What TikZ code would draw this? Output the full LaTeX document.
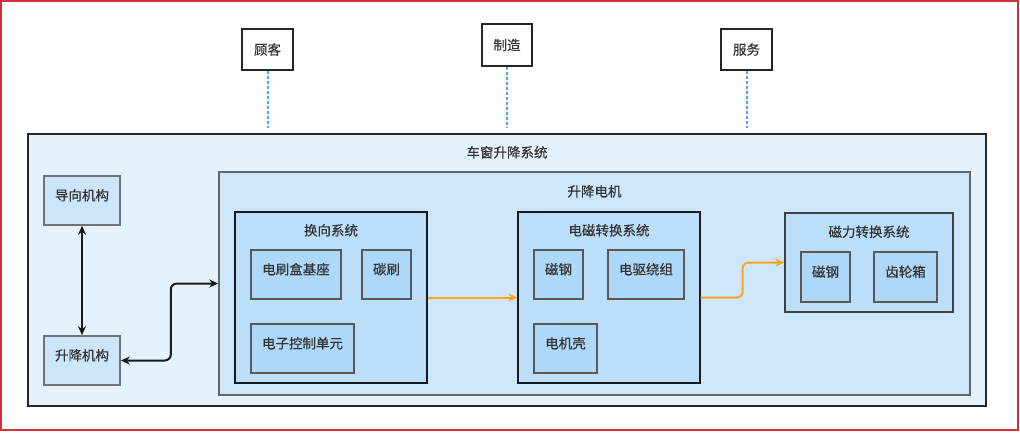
\documentclass[tikz,border=0pt]{standalone}
\usepackage{fontspec}
\setmainfont{Noto Sans CJK SC}[FakeBold=0.4]
\usetikzlibrary{arrows.meta,positioning}
\definecolor{txt}{HTML}{333333}
\definecolor{sysfill}{HTML}{E3F2FD}
\definecolor{motfill}{HTML}{CCE6FB}
\definecolor{subfill}{HTML}{BBDEFB}
\definecolor{compfill}{HTML}{ADD8FA}
\definecolor{leftfill}{HTML}{CCE5FB}
\definecolor{dotblue}{HTML}{4DA3FF}
\definecolor{orng}{HTML}{FFA31A}
\definecolor{frame}{HTML}{D0313A}
\tikzset{
  every node/.style={font=\fontsize{13.5pt}{15pt}\selectfont, text=txt},
  topbox/.style={draw=black!85, line width=1.3pt, fill=white, inner sep=0pt, minimum width=51pt, minimum height=41pt},
  container/.style={draw=#1, line width=1.4pt, inner sep=0pt},
  comp/.style={draw=black!65, line width=1.6pt, fill=compfill, inner sep=0pt, minimum height=49pt, text height=11.4pt, text depth=11.6pt},
  leftbox/.style={draw=black!55, line width=1.6pt, fill=leftfill, inner sep=0pt, minimum width=76pt, minimum height=49pt, text height=11.4pt, text depth=11.6pt},
  bidir/.style={{Stealth[length=9pt,width=8pt]}-{Stealth[length=9pt,width=8pt]}, line width=2pt, black!90, rounded corners=6pt},
  flow/.style={-{Stealth[length=9pt,width=8pt]}, line width=2pt, orng, rounded corners=6pt},
  dotline/.style={dotblue, line width=2pt, dash pattern=on 3pt off 2pt},
  title/.style={inner sep=0pt}
}
\begin{document}
\begin{tikzpicture}[x=1pt,y=-1pt]
\useasboundingbox (0,0) rectangle (1020,432);
\draw[frame, line width=1.4pt] (1,1) rectangle (1018,430);

% top boxes
\node[topbox] (gk) at (267.5,49.5) {顾客};
\node[topbox, minimum width=50pt, minimum height=42pt] (zz) at (507,45) {制造};
\node[topbox] (fw) at (746.5,49.5) {服务};
\coordinate (gkend) at (267.5,128);
\coordinate (zzend) at (507,128);
\coordinate (fwend) at (746.5,128);
\draw[dotline] (gk.south) -- (gkend);
\draw[dotline] (zz.south) -- (zzend);
\draw[dotline] (fw.south) -- (fwend);

% system
\node[container=black!85, fill=sysfill, minimum width=958pt, minimum height=272pt] (sys) at (507,270) {};
\node[title] (systitle) at ([yshift=-19pt]sys.north) {车窗升降系统};

\node[leftbox] (dx) at (82,200.5) {导向机构};
\node[leftbox] (sj) at (82,360.5) {升降机构};

% motor
\node[container=black!60, fill=motfill, minimum width=751pt, minimum height=223pt] (mot) at (594.5,283.5) {};
\node[title] (mottitle) at ([yshift=-20pt]mot.north) {升降电机};

% commutation
\node[container=black!90, fill=subfill, minimum width=192pt, minimum height=171pt] (hx) at (331,297.5) {};
\node[title] (hxtitle) at ([yshift=-19pt]hx.north) {换向系统};
\node[comp, minimum width=90pt] (dsh) at (296,274.5) {电刷盒基座};
\node[comp, minimum width=49pt] (ts) at (386.5,274.5) {碳刷};
\node[comp, minimum width=103pt] (dz) at (302.5,348.5) {电子控制单元};

% electromagnetic
\node[container=black!90, fill=subfill, minimum width=182pt, minimum height=171pt] (dc) at (609,297.5) {};
\node[title] (dctitle) at ([yshift=-19pt]dc.north) {电磁转换系统};
\node[comp, minimum width=49pt] (cg1) at (558.5,274.5) {磁钢};
\node[comp, minimum width=76pt] (dq) at (646,274.5) {电驱绕组};
\node[comp, minimum width=63pt] (djk) at (565.5,348.5) {电机壳};

% magnetic force
\node[container=black!75, fill=subfill, minimum width=168pt, minimum height=99pt] (cl) at (869,262.5) {};
\node[title] (cltitle) at ([yshift=-19.5pt]cl.north) {磁力转换系统};
\node[comp, minimum width=49pt, minimum height=50pt] (cg2) at (825.5,277) {磁钢};
\node[comp, minimum width=63pt, minimum height=50pt] (clx) at (905.5,277) {齿轮箱};

% connectors
\draw[bidir, rounded corners=0pt] (dx.south) -- (sj.north);
\draw[bidir] (sj.east) -- ([xshift=50pt]sj.east) |- (mot.west);
\draw[flow] (hx.east) -- (dc.west);
\draw[flow] (dc.east) -- ([xshift=42pt]dc.east) |- (cl.west);
\end{tikzpicture}
\end{document}
